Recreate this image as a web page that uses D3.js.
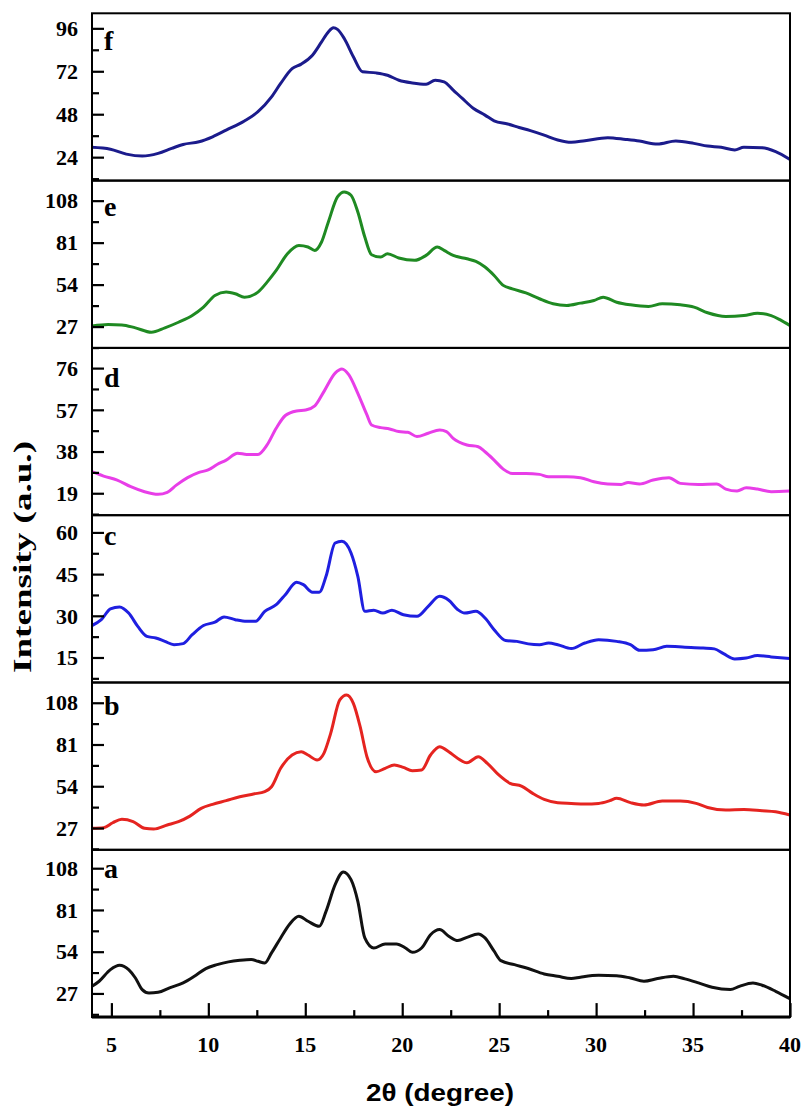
<!DOCTYPE html>
<html><head><meta charset="utf-8">
<script src="https://cdn.jsdelivr.net/npm/d3@7/dist/d3.min.js"></script>
<style>body{margin:0;background:#fff}</style>
</head><body>
<svg id="chart" width="804" height="1113"></svg>
<script>
// ---------- data ----------
const xTicks = [5,10,15,20,25,30,35,40];
const xDomain = [4,40];

const fX = [4.0,4.95,5.77,6.59,7.41,8.11,8.70,9.52,10.22,10.92,11.86,12.56,13.26,13.73,14.32,14.79,15.37,15.84,16.19,16.45,16.66,17.01,17.48,17.95,18.65,19.24,19.83,20.52,21.23,21.70,22.16,22.63,23.10,23.68,24.27,24.74,25.44,26.03,26.61,27.32,28.02,28.72,29.42,30.60,31.53,32.23,33.17,34.11,35.04,35.75,36.45,37.15,37.62,38.56,39.26,39.98];
const fY = [29.5,28.4,25.7,24.6,26.1,28.9,31.1,32.6,35.4,39.1,44.2,49.4,57.7,65.2,73.5,76.0,81.0,88.4,94.0,96.3,95.4,90.3,80.1,71.7,71.1,69.8,67.0,65.5,64.8,67.0,66.1,61.5,56.8,51.2,47.5,44.3,42.5,40.6,38.8,36.3,33.6,32.3,33.2,34.9,33.9,33.0,31.3,33.0,31.7,30.2,29.5,28.0,29.5,29.3,27.1,22.8];

const eX = [4.0,4.83,5.54,6.24,7.06,7.76,8.46,9.17,9.75,10.34,10.92,11.39,11.86,12.56,13.03,13.50,14.08,14.67,15.14,15.49,15.84,16.19,16.66,17.01,17.36,17.71,18.07,18.42,18.89,19.24,19.82,20.64,21.23,21.81,22.16,22.63,23.34,23.80,24.27,24.74,25.21,25.68,26.38,27.08,27.78,28.49,29.19,29.89,30.36,31.06,31.77,32.70,33.41,34.34,35.05,35.75,36.69,37.62,38.32,39.03,39.50,39.99];
const eY = [27.3,28.3,28.1,26.2,23.4,26.2,29.8,34.1,39.5,47.0,49.2,48.1,45.9,49.2,55.6,63.1,73.9,79.2,78.2,76.0,81.4,94.3,110.4,113.6,111.5,100.7,84.6,73.2,71.7,73.9,71.1,69.6,72.8,78.2,76.0,72.8,70.6,68.9,65.3,59.9,53.5,51.3,48.7,44.9,41.7,40.6,42.1,43.8,45.9,42.7,41.0,39.9,41.7,41.0,39.5,35.9,33.5,34.1,35.6,34.1,31.3,27.7];

const dX = [4.0,4.60,5.30,6.00,6.71,7.41,7.88,8.35,8.93,9.52,9.99,10.45,10.92,11.51,11.98,12.56,13.03,13.50,13.97,14.55,15.02,15.49,15.96,16.54,16.89,17.25,17.71,18.18,18.42,18.89,19.35,19.82,20.29,20.76,21.34,21.93,22.28,22.63,23.34,23.92,24.27,24.74,25.21,25.68,26.38,27.08,27.55,28.49,29.19,29.89,30.60,31.30,31.65,32.24,32.94,33.76,34.34,35.28,36.22,36.69,37.27,37.74,38.32,39.03,39.99];
const dY = [28.8,26.8,25.0,22.0,19.7,18.5,19.4,22.7,26.1,28.5,29.6,32.1,34.1,37.2,36.7,36.7,41.0,48.6,54.4,56.5,56.9,58.8,65.3,73.7,75.6,72.9,64.5,54.7,50.1,48.9,48.3,47.1,46.8,44.8,46.3,47.8,47.1,44.0,41.0,40.2,37.9,34.1,30.0,28.0,28.0,27.6,26.5,26.5,26.1,24.2,23.2,23.0,23.9,23.2,25.0,26.1,23.5,23.0,23.2,20.9,20.0,21.5,20.9,19.7,20.0];

const cX = [4.0,4.48,4.95,5.42,5.89,6.36,6.83,7.29,7.76,8.23,8.70,9.17,9.75,10.34,10.81,11.39,11.98,12.44,12.91,13.50,13.97,14.55,14.90,15.37,15.72,16.07,16.54,16.89,17.36,17.71,18.07,18.53,19.00,19.47,20.06,20.76,21.34,21.93,22.40,22.87,23.22,23.80,24.27,24.74,25.33,25.91,26.50,27.08,27.55,28.02,28.72,29.42,30.13,31.06,31.77,32.24,32.94,33.64,34.58,35.52,36.10,36.57,37.15,37.74,38.32,39.03,39.99];
const cY = [26.5,28.6,32.5,33.2,31.0,26.2,22.6,22.0,20.8,19.6,20.0,23.2,26.5,27.7,29.6,28.6,28.0,28.0,31.6,34.0,37.6,42.1,41.2,38.5,38.5,44.2,56.2,56.8,52.6,44.2,31.6,32.0,31.0,32.0,30.4,29.8,33.4,37.0,35.6,32.2,31.0,31.6,29.2,25.0,21.1,20.8,19.9,19.6,20.2,19.6,18.2,20.2,21.4,20.8,19.6,17.6,17.8,19.0,18.7,18.4,18.1,16.4,14.5,14.8,15.7,15.2,14.6];

const bX = [4.0,4.60,5.07,5.54,6.12,6.71,7.18,7.88,8.46,9.05,9.63,10.22,10.92,11.62,12.33,12.91,13.26,13.73,14.32,14.79,15.14,15.61,15.96,16.31,16.78,17.13,17.48,17.83,18.18,18.65,19.12,19.59,20.06,20.52,21.00,21.46,21.93,22.40,22.87,23.34,23.92,24.39,24.98,25.56,26.15,26.73,27.32,28.02,28.72,29.42,30.13,30.71,31.06,31.77,32.47,33.41,34.34,35.16,35.75,36.69,37.62,38.56,39.26,39.99];
const bY = [26.8,27.2,30.4,32.6,31.1,26.8,26.3,28.9,31.1,34.7,39.7,42.3,44.7,47.2,49.0,50.5,53.7,65.6,74.2,76.3,74.2,71.0,75.3,88.2,109.8,113.0,107.6,92.5,73.1,63.4,65.6,67.7,66.2,64.1,64.5,74.2,79.6,76.3,72.0,69.2,73.1,68.8,61.3,55.9,54.1,49.4,45.5,43.4,42.9,42.5,42.9,44.7,46.2,43.4,41.9,44.4,44.4,42.9,40.3,38.6,39.0,38.2,37.5,35.4];

const aX = [4.0,4.37,4.95,5.42,5.89,6.24,6.59,6.94,7.41,8.00,8.70,9.28,9.87,10.45,11.04,11.63,12.21,12.56,12.91,13.26,13.73,14.20,14.67,15.14,15.72,16.07,16.54,16.96,17.36,17.71,18.07,18.53,19.12,19.70,20.17,20.52,21.00,21.46,21.93,22.40,22.87,23.34,23.92,24.27,24.74,25.09,25.79,26.50,27.32,28.02,28.72,29.19,30.13,31.06,31.77,32.47,33.17,33.99,34.58,35.28,35.98,36.92,37.39,38.09,38.56,39.26,39.99];
const aY = [31.6,34.9,42.4,45.2,42.4,37.0,29.5,27.3,27.7,30.6,33.8,38.1,43.1,45.6,47.4,48.4,48.9,47.8,46.7,53.2,62.9,71.9,76.9,73.7,70.4,80.1,97.4,105.6,100.6,86.6,62.9,56.4,59.0,59.0,56.4,53.6,56.4,65.0,68.3,64.0,61.2,63.3,65.5,62.9,54.3,48.2,45.6,43.1,39.6,38.1,36.6,37.5,38.7,38.5,37.0,34.9,36.6,38.1,36.4,33.8,31.0,29.5,31.6,33.8,32.3,28.4,23.6];

// panel y ranges and ticks (top to bottom)
const panelLetters = ["f","e","d","c","b","a"];
const panelX = [fX, eX, dX, cX, bX, aX];
const panelY = [fY, eY, dY, cY, bY, aY];
const panelYDomain = [[10.9,104.4],[13.3,120.9],[9.0,85.2],[6.0,66.2],[12.9,121.1],[11.7,119.9]];
const panelYTicks = [[24,48,72,96],[27,54,81,108],[19,38,57,76],[15,30,45,60],[27,54,81,108],[27,54,81,108]];
const panelColors = ["#1b1b8c","#1f8a22","#e83ee8","#1f1fe0","#e52420","#111111"];
const letterOffset = [37,35,39,30,32,28];

// ---------- layout ----------
const svg = d3.select("#chart");
const plotL = 92, plotR = 790, plotT = 13.3, panelH = 167.3, nPanels = 6;
const x = d3.scaleLinear().domain(xDomain).range([plotL, plotR]);
const serif = "Liberation Serif";

panelLetters.forEach((L, i) => {
  const y0 = plotT + i * panelH, y1 = y0 + panelH;
  const y = d3.scaleLinear().domain(panelYDomain[i]).range([y1, y0]);
  const g = svg.append("g");

  const clipId = "clip" + i;
  svg.append("clipPath").attr("id", clipId).append("rect")
    .attr("x", plotL).attr("y", y0).attr("width", plotR - plotL).attr("height", panelH);

  const data = panelX[i].map((v, k) => [v, panelY[i][k]]);
  g.append("path").datum(data)
    .attr("clip-path", `url(#${clipId})`)
    .attr("fill", "none").attr("stroke", panelColors[i])
    .attr("stroke-width", 3).attr("stroke-linejoin", "round").attr("stroke-linecap", "round")
    .attr("d", d3.line().x(d => x(d[0])).y(d => y(d[1])).curve(d3.curveMonotoneX));

  const ticks = panelYTicks[i];
  const step = ticks[1] - ticks[0];
  const minor = [];
  for (let v = ticks[0] - step / 2; v <= panelYDomain[i][1]; v += step) {
    if (v >= panelYDomain[i][0]) minor.push(v);
  }
  const gy = g.append("g").attr("transform", `translate(${plotL},0)`)
    .call(d3.axisRight(y).tickValues(ticks).tickSize(12).tickFormat(""));
  gy.select(".domain").remove();
  gy.selectAll("line").attr("stroke", "#000").attr("stroke-width", 2.2);
  const gm = g.append("g").attr("transform", `translate(${plotL},0)`)
    .call(d3.axisRight(y).tickValues(minor).tickSize(7).tickFormat(""));
  gm.select(".domain").remove();
  gm.selectAll("line").attr("stroke", "#000").attr("stroke-width", 2.2);

  g.selectAll("text.ylab").data(ticks).enter().append("text")
    .attr("class", "ylab")
    .attr("x", 78).attr("y", d => y(d)).attr("dy", "0.35em")
    .attr("text-anchor", "end")
    .attr("font-family", serif).attr("font-weight", "bold").attr("font-size", 22)
    .text(d => d);

  g.append("rect").attr("x", plotL).attr("y", y0).attr("width", plotR - plotL).attr("height", panelH)
    .attr("fill", "none").attr("stroke", "#000").attr("stroke-width", 2);

  g.append("text").attr("x", 104).attr("y", y0 + letterOffset[i])
    .attr("font-family", serif).attr("font-weight", "bold").attr("font-size", 28)
    .text(L);
});

// bottom x axis
const plotB = plotT + nPanels * panelH;
const minorX = xTicks.map(v => v + 2.5).filter(v => v < 40);
const gx = svg.append("g").attr("transform", `translate(0,${plotB})`)
  .call(d3.axisTop(x).tickValues(xTicks).tickSize(14).tickFormat(""));
gx.select(".domain").remove();
gx.selectAll("line").attr("stroke", "#000").attr("stroke-width", 2.2);
const gx2 = svg.append("g").attr("transform", `translate(0,${plotB})`)
  .call(d3.axisTop(x).tickValues(minorX).tickSize(7).tickFormat(""));
gx2.select(".domain").remove();
gx2.selectAll("line").attr("stroke", "#000").attr("stroke-width", 2.2);
svg.append("line").attr("x1", plotL).attr("x2", plotR).attr("y1", plotB).attr("y2", plotB)
  .attr("stroke", "#000").attr("stroke-width", 3);

svg.selectAll("text.xlab").data(xTicks).enter().append("text")
  .attr("class", "xlab")
  .attr("x", d => x(d)).attr("y", 1052).attr("text-anchor", "middle")
  .attr("font-family", serif).attr("font-weight", "bold").attr("font-size", 22)
  .text(d => d);

svg.append("text").attr("x", 440).attr("y", 1101).attr("text-anchor", "middle")
  .attr("textLength", 148).attr("lengthAdjust", "spacingAndGlyphs")
  .attr("font-family", "Liberation Sans").attr("font-weight", "bold").attr("font-size", 23)
  .text("2θ (degree)");

svg.append("text").attr("transform", "translate(31,557) rotate(-90)").attr("text-anchor", "middle")
  .attr("textLength", 232).attr("lengthAdjust", "spacingAndGlyphs")
  .attr("font-family", serif).attr("font-weight", "bold").attr("font-size", 25)
  .text("Intensity (a.u.)");
</script>
</body></html>
